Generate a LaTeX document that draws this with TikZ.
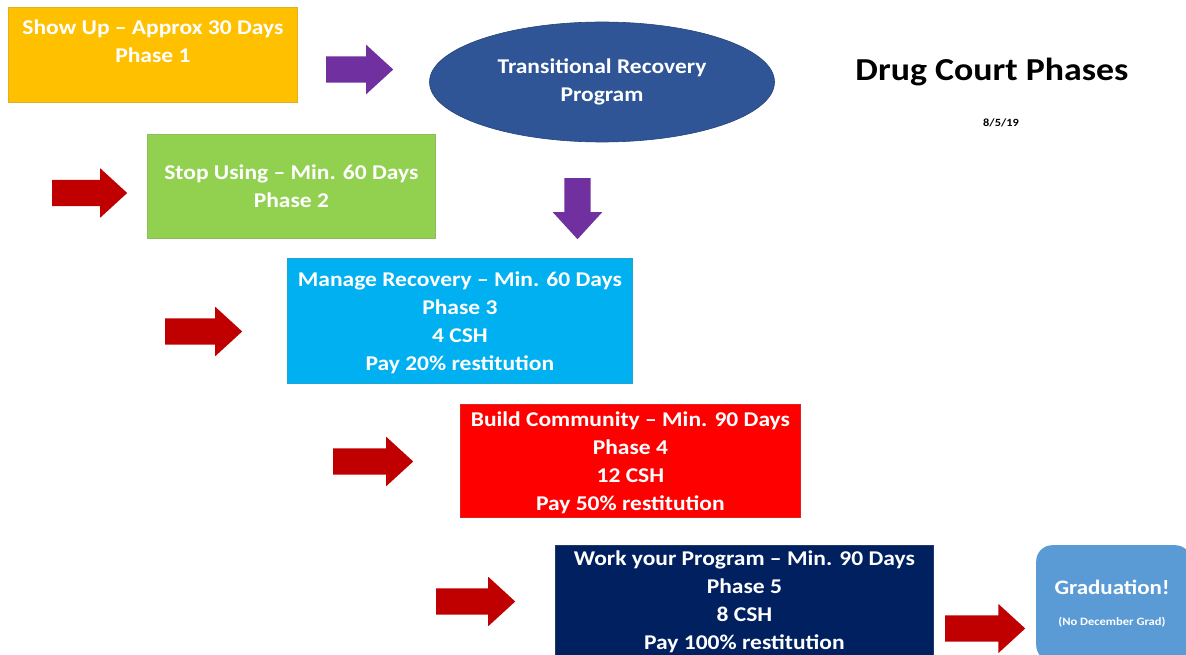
\documentclass[tikz,border=0pt]{standalone}
\usepackage{fontspec}
\setmainfont{Carlito}[FakeStretch=1.12]
\usetikzlibrary{shapes.geometric,shapes.arrows}
\definecolor{cYellow}{HTML}{FFC000}
\definecolor{cPurple}{HTML}{7030A0}
\definecolor{cEllipse}{HTML}{2F5597}
\definecolor{cDarkRed}{HTML}{C00000}
\definecolor{cGreen}{HTML}{92D050}
\definecolor{cCyan}{HTML}{00B0F0}
\definecolor{cRed}{HTML}{FF0000}
\definecolor{cNavy}{HTML}{002060}
\definecolor{cGrad}{HTML}{5B9BD5}
\tikzset{
  phasebox/.style={rectangle, draw=#1!75!gray, line width=0.8pt, fill=#1, inner sep=0pt, anchor=north west,
    text=white, font=\fontsize{21}{28}\selectfont\bfseries, align=center},
  boxtext/.style={text=white, font=\fontsize{21}{28}\selectfont\bfseries, align=center, inner sep=0pt},
  blockarrow/.style={single arrow, fill=#1, draw=none, inner xsep=0pt, inner ysep=13pt,
    single arrow head extend=11.5pt, single arrow tip angle=85, anchor=tail},
  downarrow/.style={single arrow, fill=#1, draw=none, inner xsep=13pt, inner ysep=0pt,
    single arrow head extend=11.5pt, single arrow tip angle=85, shape border rotate=270, anchor=tail},
}
\begin{document}
\begin{tikzpicture}[x=1pt,y=-1pt]
\useasboundingbox (0,0) rectangle (1186,655);
\begin{scope}
\clip (0,0) rectangle (1186,655);
% Phase 1
\node[phasebox=cYellow, minimum width=289pt, minimum height=95pt] (p1) at (8,7) {};
\node[boxtext, anchor=north] (t1) at ([yshift=-13pt]p1.north) {Show Up -- Approx 30 Days\\Phase 1};
% arrow to ellipse
\node[blockarrow=cPurple, minimum height=67pt] (pa1) at (326,69.5) {};
% ellipse
\node[ellipse, fill=cEllipse, draw=cEllipse!80!black, line width=0.6pt, minimum width=345pt, minimum height=120pt,
  text=white, font=\fontsize{21}{28}\selectfont\bfseries, align=center, inner sep=0pt] (trp) at (602,82)
  {Transitional Recovery\\Program};
% title
\node[font=\fontsize{32}{38}\selectfont\bfseries] (title) at (992,72) {Drug Court Phases};
\node[font=\fontsize{11}{13}\selectfont\bfseries] (date) at (1001,123) {8/5/19};
% Phase 2
\node[blockarrow=cDarkRed, minimum height=75pt] (ra1) at (52,193) {};
\node[phasebox=cGreen, minimum width=288pt, minimum height=104pt] (p2) at (147,134) {Stop Using -- Min. 60 Days\\Phase 2};
% down arrow
\node[downarrow=cPurple, minimum height=61pt] (pa2) at (577.5,178) {};
% Phase 3
\node[blockarrow=cDarkRed, minimum height=77pt] (ra2) at (165,331.5) {};
\node[phasebox=cCyan, minimum width=345pt, minimum height=125pt] (p3) at (287,258) {};
\node[boxtext] (t3) at ([yshift=-2pt]p3.center) {Manage Recovery -- Min. 60 Days\\Phase 3\\4 CSH\\Pay 20\% restitution};
% Phase 4
\node[blockarrow=cDarkRed, minimum height=80pt] (ra3) at (333,461.5) {};
\node[phasebox=cRed, minimum width=340pt, minimum height=113pt] (p4) at (460,404) {};
\node[boxtext] (t4) at ([yshift=-2pt]p4.center) {Build Community -- Min. 90 Days\\Phase 4\\12 CSH\\Pay 50\% restitution};
% Phase 5
\node[blockarrow=cDarkRed, minimum height=79pt] (ra4) at (436,601.5) {};
\node[phasebox=cNavy, minimum width=378pt, minimum height=112pt] (p5) at (555,545) {Work your Program -- Min. 90 Days\\Phase 5\\8 CSH\\Pay 100\% restitution};
% Graduation
\node[blockarrow=cDarkRed, minimum height=80pt] (ra5) at (945,628.5) {};
\node[rectangle, rounded corners=16pt, fill=cGrad, draw=none, anchor=north west, minimum width=155pt, minimum height=116pt] (grad) at (1036,545) {};
\node[boxtext, font=\fontsize{20.5}{24}\selectfont\bfseries] (gt) at (1112,587) {Graduation!};
\node[boxtext, font=\fontsize{11.2}{13}\selectfont\bfseries] (gs) at (1112,622) {(No December Grad)};
\end{scope}
\end{tikzpicture}
\end{document}
